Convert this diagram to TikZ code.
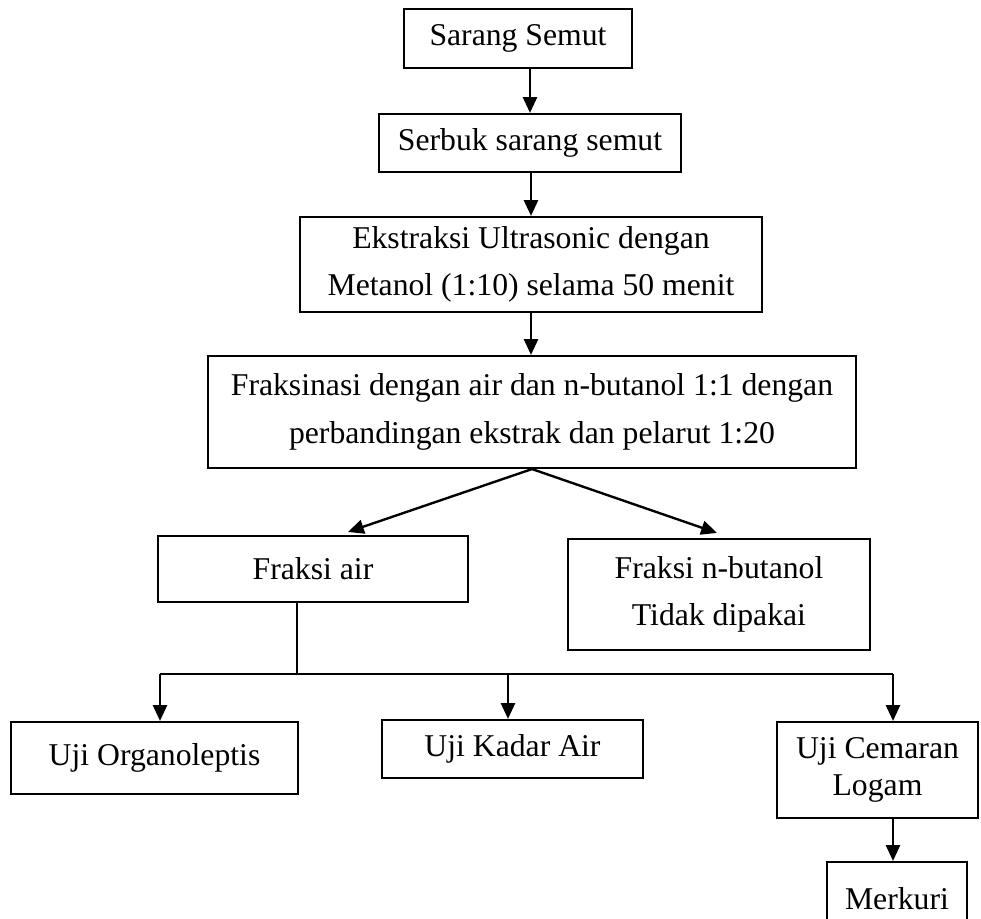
\documentclass[tikz,border=0pt]{standalone}
\usepackage{fontspec}
\setmainfont{Liberation Serif}
\usetikzlibrary{arrows.meta,calc}

\tikzset{
  kotak/.style={draw, line width=0.8pt, align=center, inner sep=0pt, font=\fontsize{12}{18}\selectfont},
  ukuran/.style 2 args={minimum width=#1*0.3785pt, minimum height=#2*0.3785pt},
  panah/.style={line width=0.9pt, -{Triangle[length=6pt,width=5.3pt]}},
  garis/.style={line width=0.75pt}
}

\begin{document}
\begin{tikzpicture}[x=0.3785pt,y=0.3785pt,yscale=-1]
\clip (0,0) rectangle (981,919);

%Shape: Rectangle
\node (sarang) at (518,38.5) [kotak, ukuran={228}{59}] {Sarang Semut};
%Shape: Rectangle
\node (serbuk) at (530,143) [kotak, ukuran={302}{58}] {Serbuk sarang semut};
%Shape: Rectangle
\node (ekstraksi) at (531,264.5) [kotak, ukuran={462}{95}] {Ekstraksi Ultrasonic dengan\\ Metanol (1:10) selama 50 menit};
%Shape: Rectangle
\node (fraksinasi) at (532,412) [kotak, ukuran={648}{112}] {Fraksinasi dengan air dan n-butanol 1:1 dengan\\ perbandingan ekstrak dan pelarut 1:20};
%Shape: Rectangle
\node (fraksiair) at (313,569) [kotak, ukuran={310}{66}] {Fraksi air};
%Shape: Rectangle
\node (butanol) at (719,594.5) [kotak, ukuran={302}{111}] {Fraksi n-butanol\\ Tidak dipakai};
%Shape: Rectangle
\node (organo) at (154.5,758) [kotak, ukuran={287}{72}] {Uji Organoleptis};
%Shape: Rectangle
\node (kadar) at (512.5,749) [kotak, ukuran={261}{58}] {Uji Kadar Air};
%Shape: Rectangle
\node (cemaran) at (877.5,770) [kotak, ukuran={201}{96}, font=\fontsize{12}{14}\selectfont] {Uji Cemaran\\ Logam};
%Shape: Rectangle
\node (merkuri) at (897,898.5) [kotak, ukuran={140}{73}] {Merkuri};

% branch points
\coordinate (cabang) at (297,674);
\coordinate (kiri) at (160,674);
\coordinate (tengah) at (508,674);
\coordinate (kanan) at (893,674);

%Straight Lines
\draw [panah] (serbuk.north |- sarang.south) -- (serbuk.north);
\draw [panah] (ekstraksi.north |- serbuk.south) -- (ekstraksi.north);
\draw [panah] (ekstraksi.south) -- (ekstraksi.south |- fraksinasi.north);
\draw [panah] (fraksinasi.south) -- ($(fraksiair.north)+(35,-3)$);
\draw [panah] (fraksinasi.south) -- ($(butanol.north)+(-2,-5)$);
%Straight Lines
\draw [garis] (fraksiair.south -| cabang) -- (cabang);
\draw [garis] (kiri) -- (kanan);
\draw [panah] (kiri) -- (kiri |- organo.north);
\draw [panah] (tengah) -- (tengah |- kadar.north);
\draw [panah] (kanan) -- (kanan |- cemaran.north);
\draw [panah] (kanan |- cemaran.south) -- (kanan |- merkuri.north);

\end{tikzpicture}
\end{document}
